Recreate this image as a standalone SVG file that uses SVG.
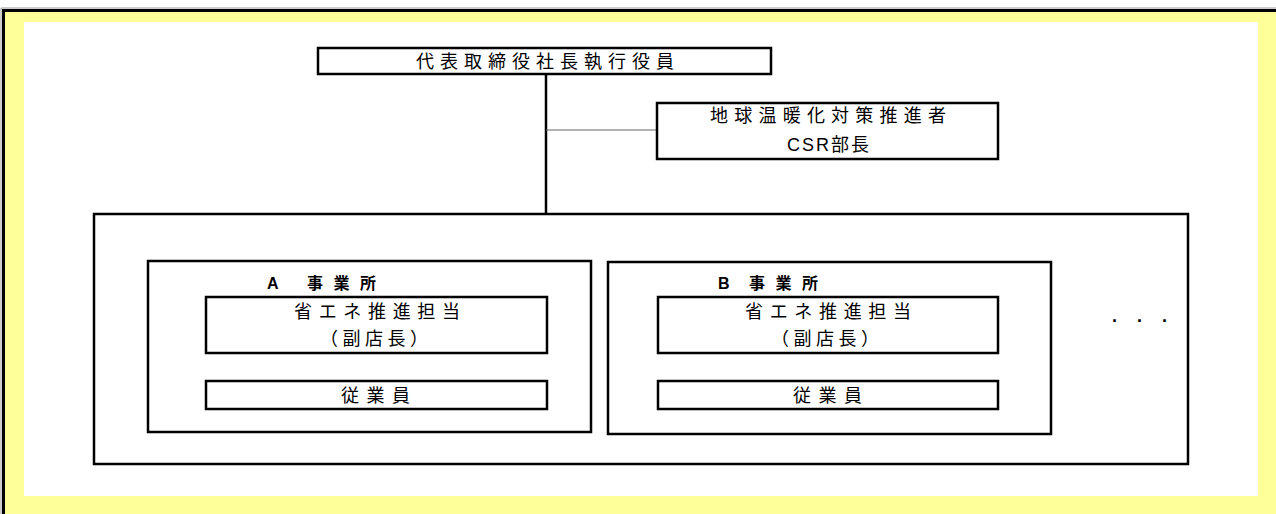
<svg xmlns="http://www.w3.org/2000/svg" width="1276" height="514" viewBox="0 0 1276 514">
<style>
.box{fill:#fff;stroke:#000;stroke-width:2.5}
.t{font-family:"Liberation Sans","Noto Sans CJK JP",sans-serif;font-size:18px;fill:#000}
.b{font-family:"Liberation Sans","Noto Sans CJK JP",sans-serif;font-size:16px;font-weight:bold;fill:#000}
</style>
<g id="frame">
<rect x="0" y="0" width="1276" height="514" fill="#fff"/>
<rect x="3" y="10" width="1273" height="504" fill="#FFFF99"/>
<line x1="1" y1="8" x2="1276" y2="8" stroke="#999" stroke-width="1"/>
<line x1="1" y1="8" x2="1" y2="514" stroke="#999" stroke-width="1"/>
<line x1="2" y1="10.5" x2="1276" y2="10.5" stroke="#000" stroke-width="3"/>
<line x1="3.5" y1="9" x2="3.5" y2="514" stroke="#000" stroke-width="3"/>
<rect x="24" y="22" width="1234" height="474" fill="#fff"/>
</g>
<g id="connectors">
<line x1="546" y1="74" x2="546" y2="214" stroke="#000" stroke-width="2.5"/>
<line x1="546" y1="130" x2="657" y2="130" stroke="#666" stroke-width="1.2"/>
</g>
<g id="ceo">
<rect class="box" x="318" y="48" width="453" height="26"/>
<text class="t" x="416" y="67.5" textLength="258" lengthAdjust="spacing">代表取締役社長執行役員</text>
</g>
<g id="promoter">
<rect class="box" x="657" y="103" width="341" height="56"/>
<text class="t" x="710" y="121.5" textLength="236" lengthAdjust="spacing">地球温暖化対策推進者</text>
<text class="t" x="787" y="151" textLength="82" lengthAdjust="spacing">CSR部長</text>
</g>
<g id="sites">
<rect class="box" x="94" y="214" width="1094" height="250"/>
<text class="t" x="1112" y="322" font-weight="bold">.</text>
<text class="t" x="1137" y="322" font-weight="bold">.</text>
<text class="t" x="1162" y="322" font-weight="bold">.</text>
</g>
<g id="site-a">
<rect class="box" x="148" y="261" width="443" height="171"/>
<text class="b" x="267" y="289">A</text>
<text class="b" x="307" y="289" textLength="69" lengthAdjust="spacing">事業所</text>
</g>
<g id="site-a-lead">
<rect class="box" x="206" y="297" width="341" height="56"/>
<text class="t" x="294" y="317.5" textLength="166" lengthAdjust="spacing">省エネ推進担当</text>
<text class="t" x="320" y="344.5" textLength="108" lengthAdjust="spacing">（副店長）</text>
</g>
<g id="site-a-staff">
<rect class="box" x="206" y="381" width="341" height="28"/>
<text class="t" x="341" y="401.5" textLength="69" lengthAdjust="spacing">従業員</text>
</g>
<g id="site-b">
<rect class="box" x="608" y="262" width="443" height="172"/>
<text class="b" x="718" y="289">B</text>
<text class="b" x="749" y="289" textLength="69" lengthAdjust="spacing">事業所</text>
</g>
<g id="site-b-lead">
<rect class="box" x="658" y="297" width="340" height="56"/>
<text class="t" x="745" y="317.5" textLength="166" lengthAdjust="spacing">省エネ推進担当</text>
<text class="t" x="771" y="344.5" textLength="108" lengthAdjust="spacing">（副店長）</text>
</g>
<g id="site-b-staff">
<rect class="box" x="658" y="381" width="340" height="28"/>
<text class="t" x="793" y="401.5" textLength="69" lengthAdjust="spacing">従業員</text>
</g>
</svg>
